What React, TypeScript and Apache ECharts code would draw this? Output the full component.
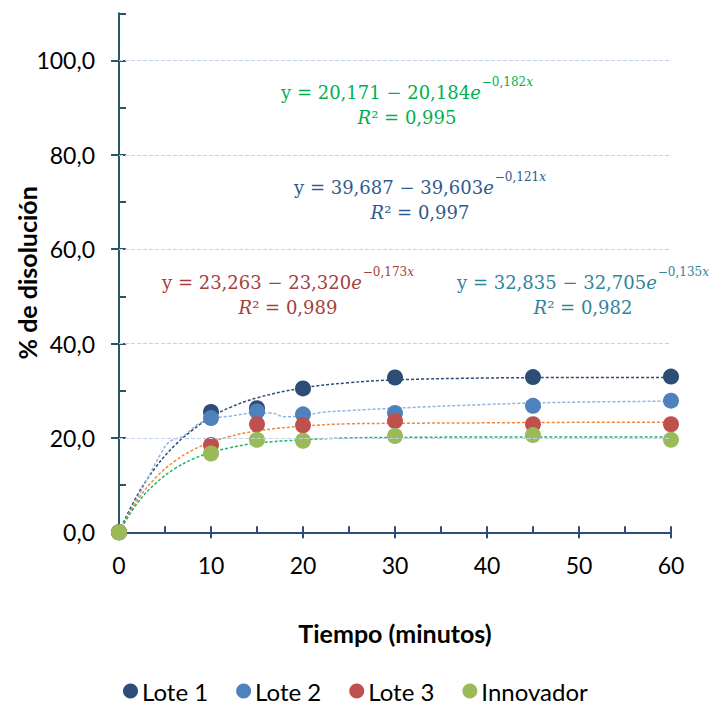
import React, { useEffect, useRef } from "react";
import * as echarts from "echarts";

const seriesNames = ["Lote 1", "Lote 2", "Lote 3", "Innovador"];
const times = [0, 10, 15, 20, 30, 45, 60];
const lote1 = [0, 25.5, 26.3, 30.5, 32.8, 32.9, 33.0];
const lote2 = [0, 24.2, 25.6, 25.0, 25.3, 26.8, 27.9];
const lote3 = [0, 18.5, 22.9, 22.7, 23.6, 22.9, 22.9];
const innovador = [0, 16.7, 19.6, 19.4, 20.4, 20.6, 19.6];

// trend curves
const trendX = [0, 2, 4, 6, 8, 10, 12, 15, 20, 25, 30, 40, 50, 60];
const lote1Trend = [0.1, 7.9, 13.8, 18.3, 21.7, 24.4, 26.4, 28.5, 30.6, 31.7, 32.3, 32.7, 32.8, 32.8];
const lote3Trend = [0, 6.8, 11.6, 15.0, 17.4, 19.1, 20.3, 21.5, 22.5, 23.0, 23.1, 23.2, 23.3, 23.3];
const innovTrend = [0, 6.2, 10.4, 13.4, 15.5, 16.9, 17.9, 18.9, 19.6, 20.0, 20.1, 20.2, 20.2, 20.2];
const lote2LineX = [0, 1.5, 3, 4.5, 5.5, 7, 8.5, 10, 12, 15, 16.5, 18, 20, 22, 25, 30, 40, 45, 50, 60];
const lote2LineY = [0, 5.5, 11, 16.5, 19.2, 20.4, 22.8, 24.1, 24.6, 25.3, 25.3, 24.5, 24.7, 25.4, 25.8, 26.3, 27.1, 27.4, 27.6, 27.8];

const yLabelTicks = [0, 20, 40, 60, 80, 100];
const yAllTicks = [0, 10, 20, 30, 40, 50, 60, 70, 80, 90, 100, 110];
const xLabelTicks = [0, 10, 20, 30, 40, 50, 60];
const xAllTicks = [0, 5, 10, 15, 20, 25, 30, 35, 40, 45, 50, 55, 60];
const gridValues = [20, 40, 60, 80, 100];

const equations = [
  { a: "23,263", b: "23,320", k: "0,173", r2: "0,989", color: "#A5403D" },
  { a: "39,687", b: "39,603", k: "0,121", r2: "0,997", color: "#2F5A8F" },
  { a: "32,835", b: "32,705", k: "0,135", r2: "0,982", color: "#31849B" },
  { a: "20,171", b: "20,184", k: "0,182", r2: "0,995", color: "#00B050" },
];

const colors = ["#2C4D75", "#4F81BD", "#C0504D", "#9BBB59"];
const trendColors = ["#2C4D75", "#8DB4E2", "#F0883A", "#1DB860"];

const LABEL_FONT = "Lato, 'Open Sans', sans-serif";
const EQ_FONT = "'DejaVu Serif', 'Liberation Serif', serif";

function zip(xs: number[], ys: number[]) {
  return xs.map((x, i) => [x, ys[i]]);
}

function eqText(e: typeof equations[0], cx: number, cy: number) {
  const fs = 18;
  const ss = 12;
  const lh = 25;
  return {
    type: "text",
    x: cx,
    y: cy,
    style: {
      text:
        `{n|y = ${e.a} − ${e.b}}{i|e}{s|−${e.k}}{si|x}\n` +
        `{i|R}{n|² = ${e.r2}}`,
      fill: e.color,
      align: "center",
      verticalAlign: "middle",
      rich: {
        n: { fontFamily: EQ_FONT, fontSize: fs, lineHeight: lh, fill: e.color, verticalAlign: "bottom" },
        i: { fontFamily: EQ_FONT, fontSize: fs, fontStyle: "italic", lineHeight: lh, fill: e.color, verticalAlign: "bottom" },
        s: { fontFamily: EQ_FONT, fontSize: ss, lineHeight: lh, fill: e.color, verticalAlign: "top", padding: [0, 0, 0, 1] },
        si: { fontFamily: EQ_FONT, fontSize: ss, fontStyle: "italic", lineHeight: lh, fill: e.color, verticalAlign: "top" },
      },
    },
  };
}

export default function App() {
  const ref = useRef<HTMLDivElement>(null);
  useEffect(() => {
    if (!ref.current) return;
    const chart = echarts.init(ref.current, null, { renderer: "svg" });
    const scatterData = [lote1, lote2, lote3, innovador];
    const trendSeries = [
      { name: "t1", data: zip(trendX, lote1Trend), color: trendColors[0] },
      { name: "t2", data: zip(lote2LineX, lote2LineY), color: trendColors[1] },
      { name: "t3", data: zip(trendX, lote3Trend), color: trendColors[2] },
      { name: "t4", data: zip(trendX, innovTrend), color: trendColors[3] },
    ].map((t) => ({
      name: t.name,
      type: "line",
      smooth: 0.4,
      showSymbol: false,
      symbol: "none",
      silent: true,
      z: 1,
      lineStyle: { color: t.color, width: 1.5, type: [3, 2] },
      data: t.data,
    }));

    const option: any = {
      animation: false,
      backgroundColor: "#fff",
      grid: { left: 119, right: 47, top: 13.3, bottom: 173.7, outerBoundsMode: "none", containLabel: false },
      legend: {
        data: seriesNames,
        top: 674,
        left: 118,
        icon: "circle",
        itemWidth: 15,
        itemHeight: 15,
        itemGap: 28,
        textStyle: { fontFamily: LABEL_FONT, fontSize: 24, color: "#000", padding: [0, 0, 0, -1] },
      },
      xAxis: [
        {
          type: "value",
          min: 0,
          max: 60,
          interval: 10,
          name: "Tiempo (minutos)",
          nameLocation: "middle",
          nameGap: 88,
          nameMoveOverlap: false,
          nameTextStyle: { fontFamily: LABEL_FONT, fontSize: 25, fontWeight: "bold", color: "#000" },
          axisLine: { show: true, lineStyle: { color: "#2E4D7B", width: 2 } },
          axisTick: { show: true, inside: false, length: 6, customValues: xLabelTicks, lineStyle: { color: "#2E4D7B", width: 2 } },
          axisLabel: { customValues: xLabelTicks, fontFamily: LABEL_FONT, fontSize: 23, color: "#000", margin: 21 },
          splitLine: { show: false },
        },
        {
          type: "value",
          min: 0,
          max: 60,
          interval: 10,
          position: "bottom",
          axisLine: { show: false },
          axisTick: { show: true, inside: true, length: 6, customValues: xAllTicks, lineStyle: { color: "#2E4D7B", width: 2 } },
          axisLabel: { show: false },
          splitLine: { show: false },
        },
      ],
      yAxis: [
        {
          type: "value",
          min: 0,
          max: 110,
          interval: 10,
          name: "% de disolución",
          nameLocation: "middle",
          nameGap: 80,
          nameMoveOverlap: false,
          nameTextStyle: { fontFamily: LABEL_FONT, fontSize: 25, fontWeight: "bold", color: "#000" },
          axisLine: { show: true, lineStyle: { color: "#2A5766", width: 2 } },
          axisTick: { show: true, inside: false, length: 8, customValues: yLabelTicks, lineStyle: { color: "#2A5766", width: 2 } },
          axisLabel: {
            customValues: yLabelTicks,
            fontFamily: LABEL_FONT,
            fontSize: 23,
            color: "#000",
            margin: 24,
            formatter: (v: number) => v.toFixed(1).replace(".", ","),
          },
          splitLine: { show: false },
        },
        {
          type: "value",
          min: 0,
          max: 110,
          interval: 10,
          position: "left",
          axisLine: { show: false },
          axisTick: { show: true, inside: true, length: 7, customValues: yAllTicks, lineStyle: { color: "#2A5766", width: 2 } },
          axisLabel: { show: false },
          splitLine: { show: false },
        },
      ],
      graphic: [
        eqText(equations[3], 407, 101),
        eqText(equations[1], 420, 196),
        eqText(equations[0], 288, 291),
        eqText(equations[2], 583, 291),
      ],
      series: [
        {
          name: "grid",
          type: "line",
          data: [],
          silent: true,
          z: 0,
          markLine: {
            silent: true,
            symbol: "none",
            label: { show: false },
            lineStyle: { color: "#C3D2EC", width: 1, type: [4, 2] },
            data: gridValues.map((v) => ({ yAxis: v })),
          },
        },
        ...trendSeries,
        ...seriesNames.map((name, i) => ({
          name,
          type: "scatter",
          symbol: "circle",
          symbolSize: 16,
          z: 3,
          itemStyle: { color: colors[i], opacity: 1 },
          data: zip(times, scatterData[i]),
        })),
      ],
    };
    chart.setOption(option);
    return () => chart.dispose();
  }, []);
  return (
    <div
      ref={ref}
      style={{ position: "absolute", left: 0, top: 0, width: 718, height: 706 }}
    />
  );
}
